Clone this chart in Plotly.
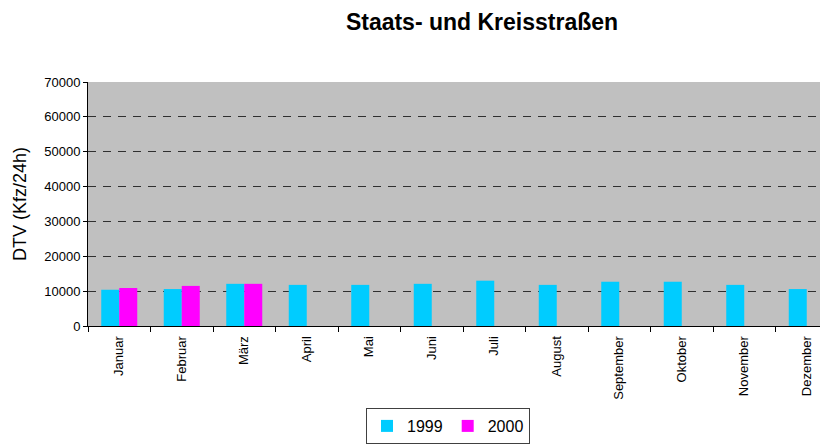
import plotly.graph_objects as go

months = ["Januar", "Februar", "März", "April", "Mai", "Juni", "Juli",
          "August", "September", "Oktober", "November", "Dezember"]
values_1999 = [10400, 10600, 12100, 11800, 11800, 12100, 13000,
               11800, 12700, 12700, 11800, 10600]
values_2000 = [10900, 11500, 12100, None, None, None, None,
               None, None, None, None, None]
y_ticks = [0, 10000, 20000, 30000, 40000, 50000, 60000, 70000]

FONT = "Liberation Sans, Arial, sans-serif"
W, H = 820, 438  # page has an 8px body margin

fig = go.Figure()
fig.add_trace(go.Bar(name="1999", x=months, y=values_1999,
                     marker=dict(color="#00CCFF", line=dict(width=0))))
fig.add_trace(go.Bar(name="2000", x=months, y=values_2000,
                     marker=dict(color="#FF00FF", line=dict(width=0))))

fig.update_layout(
    width=W, height=H,
    margin=dict(l=80, r=0, t=74, b=120, autoexpand=False),
    paper_bgcolor="white",
    plot_bgcolor="#C0C0C0",
    barmode="group",
    bargap=0.424,
    bargroupgap=0,
    font=dict(family=FONT, color="black"),
    title=dict(text="<b>Staats- und Kreisstraßen</b>",
               font=dict(family=FONT, size=23, color="black"),
               x=474/W, xref="container", xanchor="center",
               y=1-14/H, yref="container", yanchor="middle",
               automargin=False),
    showlegend=True,
    legend=dict(orientation="h",
                xref="container", yref="container",
                x=440/W, xanchor="center",
                y=1-436/H, yanchor="bottom",
                bordercolor="#404040", borderwidth=1,
                font=dict(family=FONT, size=16, color="black"),
                itemwidth=30, tracegroupgap=0,
                bgcolor="white"),
)

fig.update_xaxes(
    type="category",
    range=[-0.5, 11.34],
    tickangle=-90,
    tickfont=dict(family=FONT, size=13, color="black"),
    showline=True, linecolor="black", linewidth=1,
    ticks="outside", tickson="boundaries", ticklen=5, tickcolor="black",
    ticklabelstandoff=4,
    showgrid=False, automargin=False,
)
fig.update_yaxes(
    range=[0, 70000],
    tickvals=y_ticks,
    ticktext=[str(v) for v in y_ticks],
    tickfont=dict(family=FONT, size=13, color="black"),
    title=dict(text="DTV (Kfz/24h)", font=dict(family=FONT, size=18, color="black"), standoff=12),
    showline=True, linecolor="black", linewidth=1,
    ticks="outside", ticklen=4, tickcolor="black",
    showgrid=True, gridcolor="#303030", gridwidth=1, griddash="8px,7px",
    zeroline=False, automargin=False,
)

fig.write_html("out.html")
